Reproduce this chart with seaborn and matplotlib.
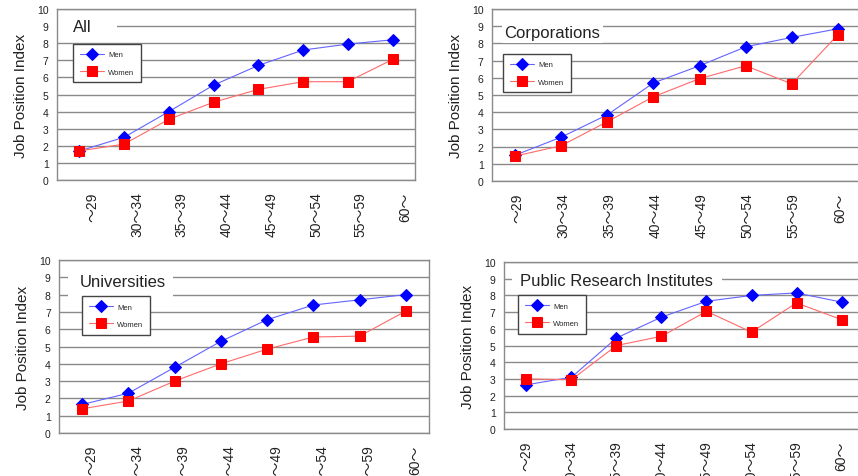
import matplotlib
matplotlib.use('Agg')
import matplotlib.pyplot as plt
import matplotlib.transforms as mtransforms
from matplotlib.patches import Rectangle
import numpy as np
import pandas as pd
import seaborn as sns

# age groups on the x axis and one title per panel
age_groups = ['～29', '30～34', '35～39', '40～44', '45～49', '50～54', '55～59', '60～']
panel_titles = ['All', 'Corporations', 'Universities', 'Public Research Institutes']

# job position index
men_all = [1.7, 2.5, 4.0, 5.55, 6.7, 7.6, 7.95, 8.2]
women_all = [1.7, 2.1, 3.55, 4.55, 5.3, 5.75, 5.75, 7.05]
men_corp = [1.5, 2.55, 3.85, 5.7, 6.7, 7.8, 8.35, 8.85]
women_corp = [1.45, 2.05, 3.45, 4.9, 5.95, 6.7, 5.65, 8.5]
men_univ = [1.65, 2.3, 3.8, 5.3, 6.55, 7.4, 7.7, 8.0]
women_univ = [1.4, 1.85, 3.0, 4.0, 4.85, 5.55, 5.6, 7.05]
men_pri = [2.65, 3.1, 5.45, 6.7, 7.65, 8.0, 8.15, 7.6]
women_pri = [3.0, 2.95, 5.0, 5.55, 7.05, 5.8, 7.55, 6.55]

series = {
    'All': (men_all, women_all),
    'Corporations': (men_corp, women_corp),
    'Universities': (men_univ, women_univ),
    'Public Research Institutes': (men_pri, women_pri),
}

rows = []
for title, (men, women) in series.items():
    for age, m, w in zip(age_groups, men, women):
        rows.append({'panel': title, 'age': age, 'sex': 'Men', 'index': m})
        rows.append({'panel': title, 'age': age, 'sex': 'Women', 'index': w})
df = pd.DataFrame(rows)

sns.set_style('white')
plt.rcParams['font.family'] = ['Liberation Sans', 'Noto Sans CJK JP']

fig = plt.figure(figsize=(8.58, 4.77), dpi=100)

# axes rectangles (figure fraction)
rects = [
    [0.0664, 0.6205, 0.4172, 0.3585],
    [0.5734, 0.6184, 0.4300, 0.3606],
    [0.0688, 0.0901, 0.4312, 0.3627],
    [0.5874, 0.0985, 0.4196, 0.3501],
]
legend_pos = [(0.045, 0.795), (0.03, 0.738), (0.062, 0.79), (0.039, 0.80)]
title_pos = [(0.045, 0.90), (0.033, 0.866), (0.057, 0.873), (0.044, 0.892)]
# white box behind each title: x0, x1, y0, y1 in axes fraction
title_box = [(0.0, 0.168, 0.85, 0.95), (0.027, 0.30, 0.80, 0.93),
             (0.024, 0.308, 0.77, 0.95), (0.022, 0.605, 0.85, 0.95)]
label_shift = [13, 2, 9, 0]

grey = '#8a8a8a'

for i, title in enumerate(panel_titles):
    ax = fig.add_axes(rects[i])
    sub = df[df.panel == title]
    sns.lineplot(data=sub, x='age', y='index', hue='sex', style='sex',
                 markers={'Men': 'D', 'Women': 's'}, dashes=False,
                 palette={'Men': '#0000ff', 'Women': '#ff0000'},
                 markersize=6, linewidth=0.8, markeredgecolor='auto',
                 legend=False, ax=ax)
    men_line, women_line = ax.lines[0], ax.lines[1]
    men_line.set_markersize(6)
    women_line.set_markersize(7.5)
    men_line.set_color('#6464ff')
    men_line.set_markerfacecolor('#0000ff')
    men_line.set_markeredgecolor('#0000ff')
    women_line.set_color('#ff6a6a')
    women_line.set_markerfacecolor('#ff0000')
    women_line.set_markeredgecolor('#ff0000')

    ax.set_xlim(-0.5, 7.5)
    ax.set_ylim(0, 10)
    ax.set_yticks(range(0, 11))
    ax.set_axisbelow(True)
    ax.yaxis.grid(True, color=grey, linewidth=1)
    ax.xaxis.grid(False)
    for s in ax.spines.values():
        s.set_color(grey)
        s.set_linewidth(1)

    ax.set_xticks(range(len(age_groups)))
    ax.set_xticklabels(age_groups, rotation=90, fontsize=10, color='#222222')
    ax.set_xticks(np.arange(0.5, 7, 1), minor=True)
    ax.tick_params(axis='x', which='major', length=0, pad=8)
    ax.tick_params(axis='x', which='minor', length=3, width=1, color=grey, direction='out')
    ax.tick_params(axis='y', length=2, color=grey, labelsize=7.5, pad=4, labelcolor='#222222')
    shift = mtransforms.ScaledTranslation(label_shift[i] / 100, 0, fig.dpi_scale_trans)
    for lab in ax.get_xticklabels():
        lab.set_transform(lab.get_transform() + shift)

    ax.set_xlabel('')
    ax.set_ylabel('Job Position Index', fontsize=11, color='#222222')
    w_px = rects[i][2] * 858
    ax.yaxis.set_label_coords(-29 / w_px, 0.5)

    x0, x1, y0, y1 = title_box[i]
    ax.add_patch(Rectangle((x0, y0), x1 - x0, y1 - y0, transform=ax.transAxes,
                           facecolor='white', edgecolor='none', zorder=1))
    tx, ty = title_pos[i]
    ax.text(tx, ty, title, transform=ax.transAxes, fontsize=12, color='#222222',
            ha='left', va='center', zorder=4)

    leg = ax.legend(handles=[men_line, women_line], labels=['Men', 'Women'],
                    loc='upper left', bbox_to_anchor=legend_pos[i],
                    fontsize=5.5, frameon=True, fancybox=False, framealpha=1,
                    edgecolor='#444444', handlelength=3.2, borderpad=0.9,
                    labelspacing=1.3, handletextpad=0.5, borderaxespad=0)
    leg.get_frame().set_linewidth(1)

fig.savefig('out.png', dpi=100)
